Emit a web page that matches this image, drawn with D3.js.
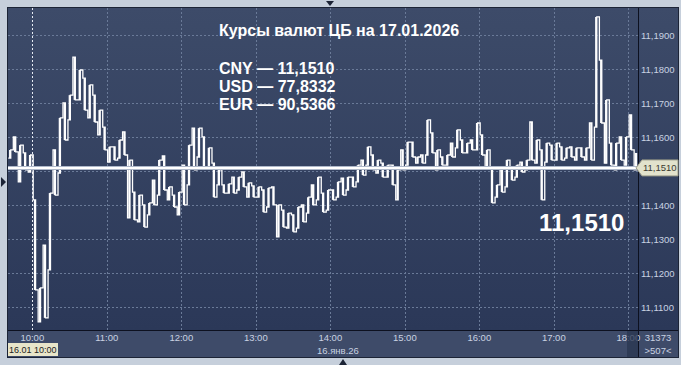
<!DOCTYPE html>
<html>
<head>
<meta charset="utf-8">
<script src="https://cdn.jsdelivr.net/npm/d3@7"></script>
<style>
  body { margin: 0; background: #c6cfdb; }
  svg { display: block; }
  text { font-family: "Liberation Sans", Arial, sans-serif; }
</style>
</head>
<body>
<script>
// курс CNY, 16 января, бары по 4 минуты (max / min)
var hiVals = [
  11.1563, 11.1601, 11.1577, 11.1554, 11.1548, 11.1416, 11.1157, 11.1283, 11.1436, 11.1563,
  11.1657, 11.1701, 11.1724, 11.1836, 11.1798, 11.1774, 11.1754, 11.1724, 11.1680, 11.1630,
  11.1572, 11.1572, 11.1592, 11.1616, 11.1533, 11.1439, 11.1430, 11.1401, 11.1407, 11.1474,
  11.1533, 11.1545, 11.1454, 11.1430, 11.1439, 11.1518, 11.1577, 11.1627, 11.1627, 11.1601,
  11.1569, 11.1524, 11.1504, 11.1460, 11.1463, 11.1483, 11.1483, 11.1498, 11.1466, 11.1457,
  11.1454, 11.1445, 11.1451, 11.1454, 11.1401, 11.1386, 11.1377, 11.1372, 11.1395, 11.1401,
  11.1424, 11.1460, 11.1483, 11.1436, 11.1445, 11.1445, 11.1469, 11.1480, 11.1483, 11.1483,
  11.1518, 11.1533, 11.1572, 11.1548, 11.1533, 11.1524, 11.1518, 11.1518, 11.1504, 11.1563,
  11.1586, 11.1586, 11.1542, 11.1548, 11.1651, 11.1613, 11.1563, 11.1542, 11.1548, 11.1583,
  11.1622, 11.1592, 11.1583, 11.1592, 11.1642, 11.1607, 11.1563, 11.1513, 11.1460, 11.1504,
  11.1533, 11.1513, 11.1518, 11.1527, 11.1533, 11.1645, 11.1592, 11.1563, 11.1583, 11.1577,
  11.1583, 11.1572, 11.1569, 11.1572, 11.1569, 11.1569, 11.1569, 11.1642, 11.1954, 11.1827,
  11.1710, 11.1583, 11.1583, 11.1601, 11.1601, 11.1666, 11.1554
];
var loVals = [
  11.1539, 11.1557, 11.1469, 11.1504, 11.1498, 11.1151, 11.1057, 11.1069, 11.1210, 11.1430,
  11.1495, 11.1592, 11.1651, 11.1710, 11.1710, 11.1680, 11.1657, 11.1645, 11.1607, 11.1563,
  11.1527, 11.1533, 11.1539, 11.1548, 11.1363, 11.1357, 11.1351, 11.1336, 11.1372, 11.1401,
  11.1430, 11.1445, 11.1416, 11.1395, 11.1372, 11.1401, 11.1460, 11.1504, 11.1542, 11.1513,
  11.1510, 11.1424, 11.1460, 11.1436, 11.1436, 11.1436, 11.1445, 11.1454, 11.1424, 11.1424,
  11.1424, 11.1380, 11.1395, 11.1401, 11.1307, 11.1336, 11.1333, 11.1322, 11.1333, 11.1351,
  11.1377, 11.1401, 11.1416, 11.1380, 11.1386, 11.1416, 11.1424, 11.1430, 11.1445, 11.1454,
  11.1469, 11.1489, 11.1518, 11.1504, 11.1495, 11.1483, 11.1483, 11.1460, 11.1416, 11.1504,
  11.1518, 11.1542, 11.1524, 11.1524, 11.1548, 11.1554, 11.1504, 11.1518, 11.1518, 11.1542,
  11.1569, 11.1554, 11.1554, 11.1563, 11.1563, 11.1548, 11.1510, 11.1407, 11.1424, 11.1439,
  11.1454, 11.1474, 11.1483, 11.1498, 11.1504, 11.1533, 11.1524, 11.1416, 11.1527, 11.1533,
  11.1533, 11.1533, 11.1539, 11.1542, 11.1533, 11.1542, 11.1533, 11.1533, 11.1630, 11.1642,
  11.1524, 11.1518, 11.1504, 11.1533, 11.1518, 11.1563, 11.1504
];
var yTicks = [11.11, 11.12, 11.13, 11.14, 11.15, 11.16, 11.17, 11.18, 11.19];
var hourTicks = ["10:00", "11:00", "12:00", "13:00", "14:00", "15:00", "16:00", "17:00", "18:00"];
var lastPrice = 11.1510;
var title = "Курсы валют ЦБ на 17.01.2026";
var rates = ["CNY — 11,1510", "USD — 77,8332", "EUR — 90,5366"];
var dayLabel = "16.янв.26";
var cursorLabel = "16.01 10:00";
var infoLines = ["31373", ">507<"];

var W = 681, H = 365;
var L = 8, T = 8, R = 638, B = 330, PR = 678, PB = 357;

var parse = d3.timeParse("%Y-%m-%d %H:%M");
var day = "2026-01-16 ";
var times = d3.timeMinute.range(parse(day + "09:42"), parse(day + "18:07"), 4);
var bars = times.map(function (t, i) { return { t: t, hi: hiVals[i], lo: loVals[i] }; });

var x = d3.scaleTime()
    .domain([parse(day + "10:00"), parse(day + "18:00")])
    .range([32.3, 628.3]);
var y = d3.scaleLinear().domain([11.11, 11.19]).range([307.3, 35.3]);
var fmt = function (v) { return d3.format(".4f")(v).replace(".", ","); };

var svg = d3.select("body").append("svg").attr("width", W).attr("height", H);
var defs = svg.append("defs");
var grad = defs.append("linearGradient").attr("id", "bg").attr("x1", 0).attr("y1", 0).attr("x2", 0).attr("y2", 1);
grad.append("stop").attr("offset", "0%").attr("stop-color", "#3d4b69");
grad.append("stop").attr("offset", "100%").attr("stop-color", "#2b3858");
defs.append("clipPath").attr("id", "clip").append("rect")
    .attr("x", L).attr("y", T).attr("width", R - L).attr("height", B - T);

// panels
svg.append("rect").attr("x", L).attr("y", T).attr("width", PR - L).attr("height", B - T).attr("fill", "url(#bg)");
svg.append("rect").attr("x", L).attr("y", B).attr("width", PR - L).attr("height", PB - B).attr("fill", "#3e4b69");

// grid
var grid = svg.append("g").attr("clip-path", "url(#clip)");
grid.selectAll(".hg").data(yTicks).enter().append("line")
    .attr("x1", L).attr("x2", R)
    .attr("y1", function (d) { return Math.round(y(d)) + 0.5; })
    .attr("y2", function (d) { return Math.round(y(d)) + 0.5; })
    .attr("stroke", "#6a7a98").attr("stroke-dasharray", "2,2");
grid.selectAll(".vg").data(hourTicks).enter().append("line")
    .attr("x1", function (d) { return Math.round(x(parse(day + d))) + 0.5; })
    .attr("x2", function (d) { return Math.round(x(parse(day + d))) + 0.5; })
    .attr("y1", T).attr("y2", B)
    .attr("stroke", function (d, i) { return i == 0 ? "#e6ebf3" : "#6a7a98"; })
    .attr("stroke-dasharray", "2,2");

// price bars: ступенчатая линия тиков + вертикали max/min
var plot = svg.append("g").attr("clip-path", "url(#clip)");
var pts = [];
bars.forEach(function (d, i) {
    var a = i % 2 ? d.hi : d.lo, b = i % 2 ? d.lo : d.hi;
    pts.push([x(d.t) - 1.6, y(a)]);
    pts.push([x(d.t) + 0.8, y(b)]);
});
plot.append("path").attr("d", d3.line().curve(d3.curveStepAfter)(pts))
    .attr("fill", "none").attr("stroke", "#ffffff").attr("stroke-width", 1.3);
plot.selectAll(".bar").data(bars).enter().append("line")
    .attr("x1", function (d) { return x(d.t); })
    .attr("x2", function (d) { return x(d.t); })
    .attr("y1", function (d) { return y(d.hi); })
    .attr("y2", function (d) { return y(d.lo); })
    .attr("stroke", "#ffffff").attr("stroke-width", 1.8);

// last price line
plot.append("line").attr("x1", L).attr("x2", R).attr("y1", y(lastPrice)).attr("y2", y(lastPrice))
    .attr("stroke", "#aeb8ca").attr("stroke-width", 4);
plot.append("line").attr("x1", L).attr("x2", R).attr("y1", y(lastPrice)).attr("y2", y(lastPrice))
    .attr("stroke", "#ffffff").attr("stroke-width", 2);

// frame lines
svg.append("line").attr("x1", R + 0.5).attr("x2", R + 0.5).attr("y1", T).attr("y2", PB).attr("stroke", "#0d1120");
svg.append("line").attr("x1", L).attr("x2", PR).attr("y1", B + 0.5).attr("y2", B + 0.5).attr("stroke", "#0d1120");
svg.append("rect").attr("x", L - 0.5).attr("y", T - 0.5).attr("width", PR - L + 1).attr("height", PB - T + 1)
    .attr("fill", "none").attr("stroke", "#1c2436");

// right axis labels
svg.selectAll(".yl").data(yTicks.filter(function (d) { return Math.abs(y(d) - y(lastPrice)) > 10; }))
    .enter().append("text")
    .attr("x", 641).attr("y", function (d) { return y(d) + 3.5; })
    .attr("fill", "#c9d2e2").attr("font-size", 9.5).text(fmt);

// price tag
var py = y(lastPrice);
svg.append("path")
    .attr("d", "M" + 636 + "," + py + "L642," + (py - 8) + "L678," + (py - 8) + "L678," + (py + 8) + "L642," + (py + 8) + "Z")
    .attr("fill", "#e2e2cc").attr("stroke", "#9a9a88");
svg.append("text").attr("x", 643).attr("y", py + 3.5).attr("fill", "#3a3a30").attr("font-size", 9.5).text(fmt(lastPrice));

// bottom axis labels
svg.selectAll(".xl").data(hourTicks).enter().append("text")
    .attr("x", function (d) { return x(parse(day + d)); }).attr("y", 341)
    .attr("text-anchor", "middle").attr("fill", "#c9d2e2").attr("font-size", 9.5).text(function (d) { return d; });
svg.append("rect").attr("x", 627).attr("y", B + 1).attr("width", R - 627).attr("height", PB - B - 1)
    .attr("fill", "#2a3550").attr("opacity", 0.75);
svg.append("text").attr("x", 317).attr("y", 354).attr("fill", "#c9d2e2").attr("font-size", 9.5).text(dayLabel);
svg.selectAll(".info").data(infoLines).enter().append("text")
    .attr("x", 658).attr("y", function (d, i) { return 341 + i * 13; })
    .attr("text-anchor", "middle").attr("fill", "#c9d2e2").attr("font-size", 9.5).text(function (d) { return d; });

// cursor label
svg.append("rect").attr("x", L).attr("y", 343).attr("width", 50).attr("height", 13).attr("fill", "#e8e5c9");
svg.append("text").attr("x", 9).attr("y", 353).attr("fill", "#222").attr("font-size", 9).text(cursorLabel);

// markers
svg.append("path").attr("d", "M326,1L334,1L330,6Z").attr("fill", "#1c2436");
svg.append("path").attr("d", "M339,365L347,365L343,359Z").attr("fill", "#1c2436");
svg.append("path").attr("d", "M1,177L6,182L1,187Z").attr("fill", "#1c2436");

// headline text
svg.append("text").attr("x", 219).attr("y", 36).attr("fill", "#ffffff")
    .attr("font-size", 16).attr("font-weight", "bold").text(title);
svg.selectAll(".rate").data(rates).enter().append("text")
    .attr("x", 219).attr("y", function (d, i) { return 73.5 + i * 18; })
    .attr("fill", "#ffffff").attr("font-size", 16).attr("font-weight", "bold").text(function (d) { return d; });
svg.append("text").attr("x", 539).attr("y", 231).attr("fill", "#ffffff")
    .attr("font-size", 24).attr("font-weight", "bold").text(fmt(lastPrice));
</script>
</body>
</html>
